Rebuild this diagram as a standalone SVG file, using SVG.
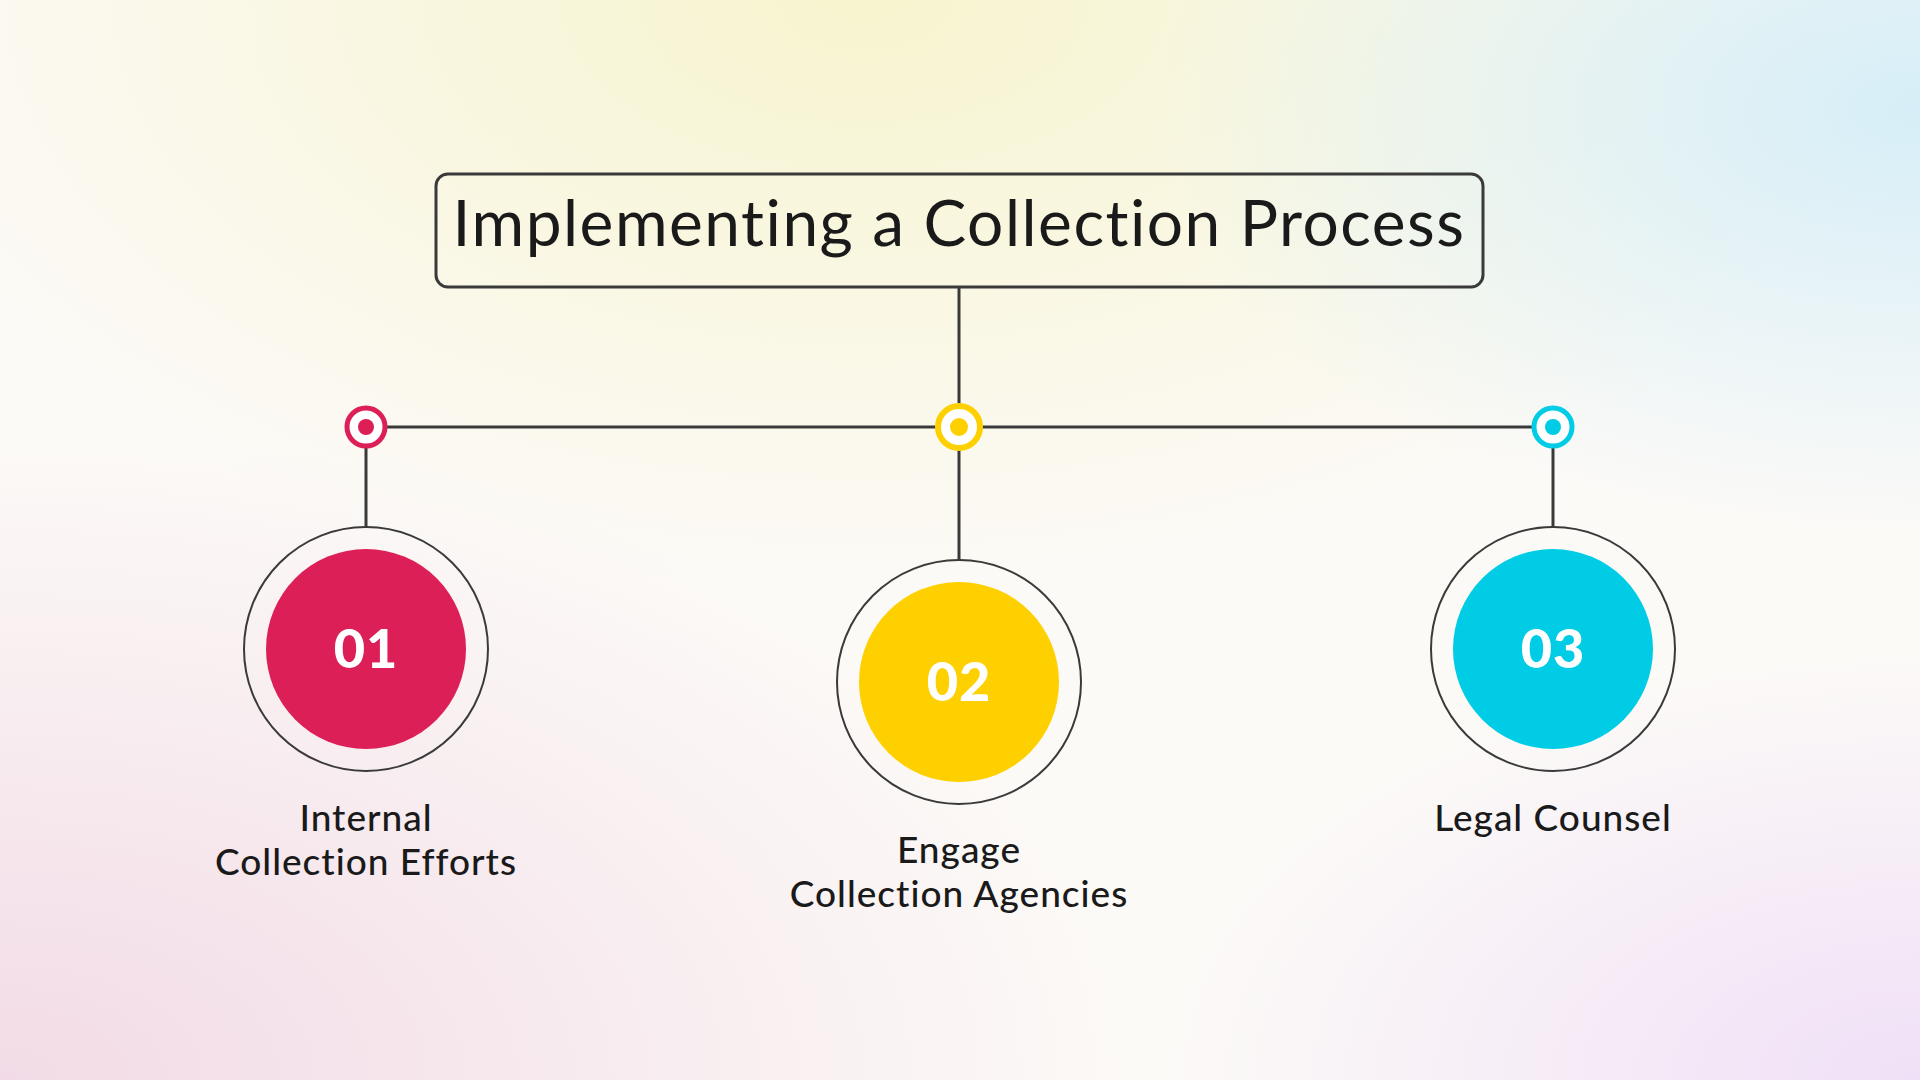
<svg xmlns="http://www.w3.org/2000/svg" width="1920" height="1080" viewBox="0 0 1920 1080">
<defs>
<radialGradient id="g1" cx="0.45" cy="0" r="0.55"><stop offset="0" stop-color="#f7f4cf"/><stop offset="1" stop-color="#f7f4cf" stop-opacity="0"/></radialGradient>
<radialGradient id="g2" cx="1" cy="0.1" r="0.4"><stop offset="0" stop-color="#d6eef7"/><stop offset="1" stop-color="#d6eef7" stop-opacity="0"/></radialGradient>
<radialGradient id="g3" cx="0" cy="1" r="0.6"><stop offset="0" stop-color="#f2dbe6"/><stop offset="1" stop-color="#f2dbe6" stop-opacity="0"/></radialGradient>
<radialGradient id="g4" cx="1" cy="1" r="0.4"><stop offset="0" stop-color="#f0e0f7"/><stop offset="1" stop-color="#f0e0f7" stop-opacity="0"/></radialGradient>
</defs>
<style>
.ln{stroke:#3a3a3a;stroke-width:3;fill:none}
.ring{fill:none;stroke:#3a3a3a;stroke-width:2}
.num{font-family:Lato,"Liberation Sans",sans-serif;font-weight:900;font-size:54px;fill:#fff;text-anchor:middle;letter-spacing:1px}
.lbl{font-family:Lato,"Liberation Sans",sans-serif;font-size:37px;font-weight:500;fill:#1a1a1a;text-anchor:middle;letter-spacing:1px}
</style>
<rect width="1920" height="1080" fill="#fcfaf7"/>
<rect width="1920" height="1080" fill="url(#g1)"/>
<rect width="1920" height="1080" fill="url(#g2)"/>
<rect width="1920" height="1080" fill="url(#g3)"/>
<rect width="1920" height="1080" fill="url(#g4)"/>
<g id="connectors">
<line class="ln" x1="959" y1="287" x2="959" y2="406"/>
<line class="ln" x1="387" y1="427" x2="937" y2="427"/>
<line class="ln" x1="981" y1="427" x2="1532" y2="427"/>
<line class="ln" x1="366" y1="448" x2="366" y2="527"/>
<line class="ln" x1="959" y1="448" x2="959" y2="560"/>
<line class="ln" x1="1553" y1="448" x2="1553" y2="527"/>
</g>
<g id="title">
<rect x="436" y="174" width="1047" height="113" rx="12" fill="none" stroke="#3a3a3a" stroke-width="3"/>
<text x="959" y="246" font-family="Lato,'Liberation Sans',sans-serif" font-size="64" fill="#1a1a1a" text-anchor="middle" letter-spacing="1.5">Implementing a Collection Process</text>
</g>
<g id="dot1"><circle cx="366" cy="427" r="19" fill="#fff" stroke="#DC1F57" stroke-width="5"/><circle cx="366" cy="427" r="8" fill="#DC1F57"/></g>
<g id="dot2"><circle cx="959" cy="427" r="21" fill="#fff" stroke="#FFD000" stroke-width="6"/><circle cx="959" cy="427" r="9" fill="#FFD000"/></g>
<g id="dot3"><circle cx="1553" cy="427" r="19" fill="#fff" stroke="#00CCE6" stroke-width="5"/><circle cx="1553" cy="427" r="8" fill="#00CCE6"/></g>
<g id="node1"><circle class="ring" cx="366" cy="649" r="122"/><circle cx="366" cy="649" r="100" fill="#DC1F57"/><text class="num" x="366" y="668">01</text>
<text class="lbl" x="366" y="831">Internal</text><text class="lbl" x="366" y="875">Collection Efforts</text></g>
<g id="node2"><circle class="ring" cx="959" cy="682" r="122"/><circle cx="959" cy="682" r="100" fill="#FFD000"/><text class="num" x="959" y="701">02</text>
<text class="lbl" x="959" y="863">Engage</text><text class="lbl" x="959" y="907">Collection Agencies</text></g>
<g id="node3"><circle class="ring" cx="1553" cy="649" r="122"/><circle cx="1553" cy="649" r="100" fill="#00CCE6"/><text class="num" x="1553" y="668">03</text>
<text class="lbl" x="1553" y="831">Legal Counsel</text></g>
</svg>
